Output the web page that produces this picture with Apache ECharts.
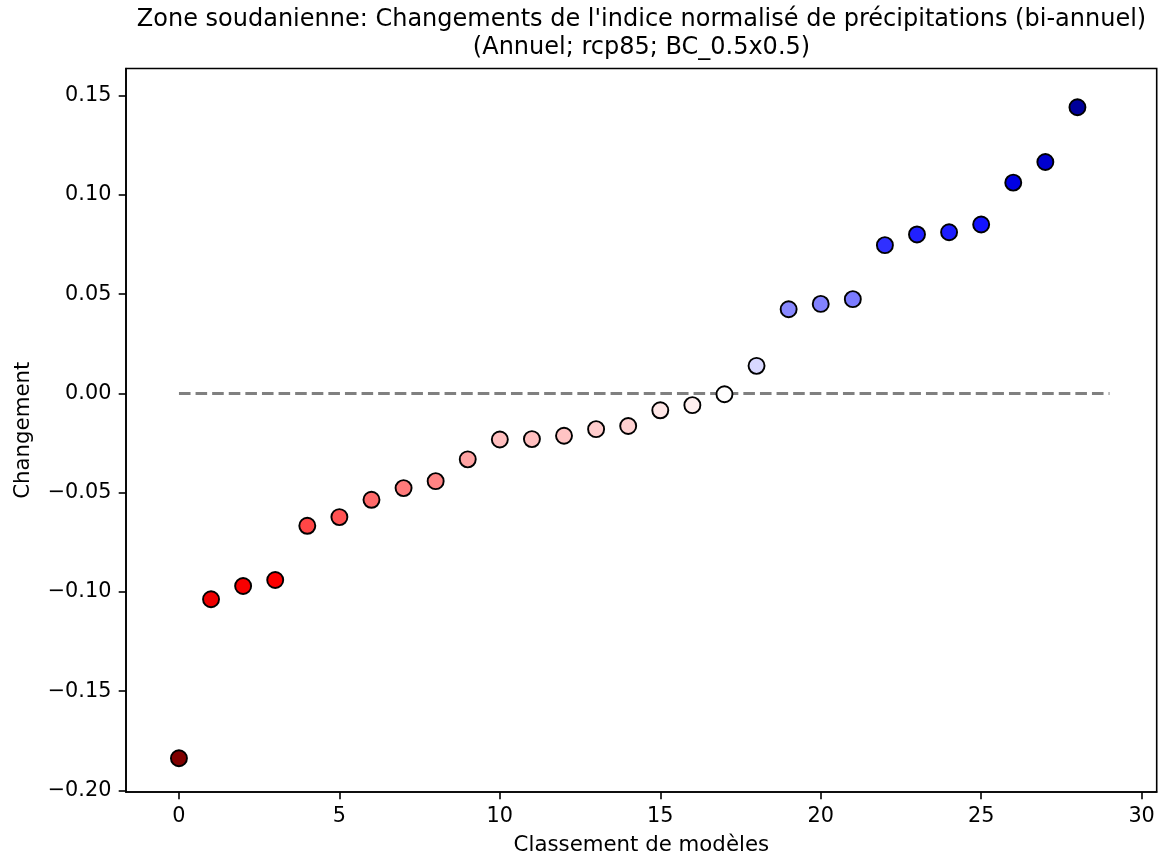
<!DOCTYPE html>
<html>
<head>
<meta charset="utf-8">
<script src="https://cdn.jsdelivr.net/npm/echarts@6/dist/echarts.min.js"></script>
<style>
html,body{margin:0;padding:0;background:#fff;}
#chart{width:1159px;height:859px;}
</style>
</head>
<body>
<div id="chart"></div>
<script>
// ---- data ----
const ranks = [0, 1, 2, 3, 4, 5, 6, 7, 8, 9, 10, 11, 12, 13, 14, 15, 16, 17, 18, 19, 20, 21, 22, 23, 24, 25, 26, 27, 28];
const changes = [-0.1838, -0.1037, -0.0970, -0.0940, -0.0667, -0.0623, -0.0536, -0.0477, -0.0442, -0.0332,
                 -0.0232, -0.0230, -0.0213, -0.0180, -0.0164, -0.0085, -0.0059, -0.0004, 0.0139, 0.0424,
                 0.0451, 0.0475, 0.0747, 0.0801, 0.0812, 0.0851, 0.1062, 0.1166, 0.1442];
const xTicks = [0, 5, 10, 15, 20, 25, 30];
const yTicks = [-0.20, -0.15, -0.10, -0.05, 0.00, 0.05, 0.10, 0.15];
const baselineValue = 0;
const titleLines = ["Zone soudanienne: Changements de l'indice normalisé de précipitations (bi-annuel)",
                    "(Annuel; rcp85; BC_0.5x0.5)"];
const xLabel = "Classement de modèles";
const yLabel = "Changement";

// ---- build ----
const points = ranks.map((r, i) => [r, changes[i]]);
const baseline = [[ranks[0], baselineValue], [ranks.length, baselineValue]];
const maxAbs = Math.max(...changes.map(Math.abs));
const FONT = '"DejaVu Sans", sans-serif';
const fmtY = v => v.toFixed(2).replace('-', '\u2212');

const chart = echarts.init(document.getElementById('chart'), null, {renderer: 'canvas'});
chart.setOption({
  animation: false,
  backgroundColor: '#fff',
  graphic: [{
    type: 'text',
    x: 641.5,
    y: 6.5,
    style: {
      text: titleLines.join('\n'),
      fontFamily: FONT,
      fontSize: 24,
      lineHeight: 27.5,
      align: 'center',
      verticalAlign: 'top',
      fill: '#000'
    }
  }],
  grid: {
    left: 126, right: 2.3, top: 68.5, bottom: 67,
    containLabel: false,
    outerBoundsMode: 'none',
    show: true,
    borderColor: '#000',
    borderWidth: 1.6,
    backgroundColor: 'transparent'
  },
  xAxis: {
    type: 'value',
    min: -1.65, max: 30.47,
    name: xLabel,
    nameLocation: 'middle',
    nameGap: 43,
    nameTextStyle: {fontFamily: FONT, fontSize: 21.3, color: '#000'},
    axisLine: {show: true, onZero: false, lineStyle: {color: '#000', width: 1.6}},
    axisTick: {show: true, length: 7.3, lineStyle: {color: '#000', width: 1.6}, customValues: xTicks},
    axisLabel: {show: true, margin: 14.6, fontFamily: FONT, fontSize: 20.8, color: '#000',
                customValues: xTicks, formatter: v => String(v)},
    splitLine: {show: false}
  },
  yAxis: {
    type: 'value',
    min: -0.2008, max: 0.1637,
    name: yLabel,
    nameLocation: 'middle',
    nameGap: 92,
    nameTextStyle: {fontFamily: FONT, fontSize: 21.3, color: '#000'},
    axisLine: {show: true, onZero: false, lineStyle: {color: '#000', width: 1.6}},
    axisTick: {show: true, length: 7.3, lineStyle: {color: '#000', width: 1.6}, customValues: yTicks},
    axisLabel: {show: true, margin: 14.6, fontFamily: FONT, fontSize: 20.8, color: '#000',
                customValues: yTicks, formatter: fmtY},
    splitLine: {show: false}
  },
  visualMap: {
    type: 'continuous',
    show: false,
    seriesIndex: 1,
    dimension: 1,
    min: -maxAbs,
    max: maxAbs,
    inRange: {color: ['#800000', '#ff0000', '#ffffff', '#0000ff', '#00004d']}
  },
  series: [
    {
      type: 'line',
      data: baseline,
      symbol: 'none',
      silent: true,
      z: 1,
      lineStyle: {color: '#808080', width: 3.1, type: [11.6, 5], cap: 'butt'}
    },
    {
      type: 'scatter',
      data: points,
      symbol: 'circle',
      symbolSize: 16,
      z: 3,
      itemStyle: {borderColor: '#000', borderWidth: 1.9, opacity: 1}
    }
  ]
});
</script>
</body>
</html>
